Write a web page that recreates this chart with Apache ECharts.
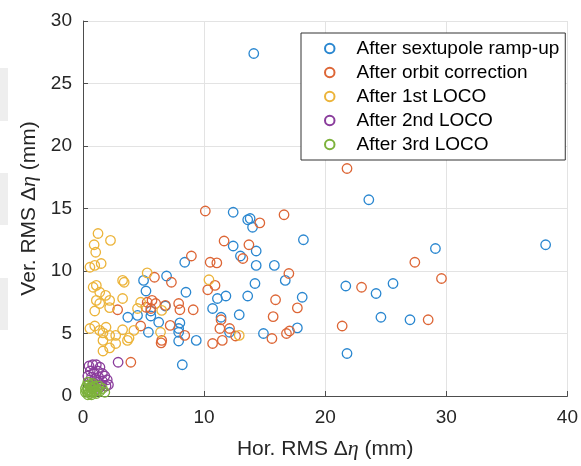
<!DOCTYPE html>
<html>
<head>
<meta charset="utf-8">
<script src="https://cdn.jsdelivr.net/npm/echarts@6/dist/echarts.min.js"></script>
<style>
  html, body { margin: 0; padding: 0; background: #fff; }
  #chart { width: 581px; height: 466px; }
</style>
</head>
<body>
<div id="chart"></div>
<script>
// legend names
var seriesNames = ['After sextupole ramp-up', 'After orbit correction', 'After 1st LOCO', 'After 2nd LOCO', 'After 3rd LOCO'];
var seriesColors = ['#2a87d0', '#dd6636', '#ecb43a', '#8a3d9c', '#7db23c'];

// [hor, ver] RMS dispersion error in mm
var rampUp = [
    [14.1, 27.4], [23.6, 15.7], [29.1, 11.8], [38.2, 12.1], [18.2, 12.5], [15.8, 10.45], [16.7, 9.25],
    [18.1, 7.9], [17.7, 5.45], [21.7, 8.8], [24.2, 8.2], [25.6, 9.0], [24.6, 6.3], [27.0, 6.1], [21.8, 3.4],
    [12.4, 14.7], [13.6, 14.1], [13.8, 14.2], [14.0, 13.5], [12.4, 12.0], [14.3, 11.6], [13.0, 11.2],
    [14.3, 10.45], [14.2, 9.0], [11.8, 8.0], [11.1, 7.8], [13.6, 8.0], [8.5, 8.3], [10.7, 7.0], [11.4, 6.3],
    [12.9, 6.5], [12.1, 5.1], [14.9, 5.0], [9.35, 4.45], [8.2, 2.5], [3.7, 6.3], [4.5, 6.45], [5.4, 5.1],
    [5.2, 8.4], [5.0, 9.25], [5.6, 6.4], [6.25, 5.9], [6.9, 9.6], [6.8, 7.2], [7.9, 5.1], [8.0, 5.85],
    [7.9, 4.4], [8.4, 10.7], [5.6, 6.8], [7.9, 5.4]
];
var orbitCorr = [
    [21.8, 18.2], [16.6, 14.5], [10.1, 14.8], [14.6, 13.85], [11.65, 12.4], [13.7, 12.1], [13.2, 11.0],
    [8.95, 11.2], [10.5, 10.7], [11.05, 10.65], [17.0, 9.8], [10.3, 8.5], [10.9, 8.85], [15.9, 7.7],
    [17.7, 7.05], [27.4, 10.7], [29.6, 9.4], [23.0, 8.7], [28.5, 6.1], [21.4, 5.6], [15.7, 6.35],
    [16.8, 5.0], [17.05, 5.2], [15.6, 4.6], [9.1, 6.9], [11.4, 6.1], [11.3, 5.4], [12.1, 5.4], [12.6, 4.8],
    [10.7, 4.2], [11.5, 4.45], [2.86, 6.9], [4.76, 5.6], [3.95, 2.7], [5.3, 7.5], [5.7, 7.65], [5.9, 9.5],
    [7.3, 9.1], [6.5, 4.45], [6.45, 4.25], [7.2, 5.65], [8.0, 6.9], [8.4, 4.85], [7.9, 7.4], [6.8, 7.25],
    [6.0, 7.4], [5.6, 7.0], [5.2, 7.1]
];
var loco1 = [
    [1.24, 13.0], [0.92, 12.1], [1.05, 11.5], [2.27, 12.45], [0.57, 10.3], [0.97, 10.45], [1.5, 10.6],
    [0.84, 8.7], [1.1, 8.85], [1.38, 8.3], [1.87, 8.05], [1.1, 7.65], [1.38, 7.4], [0.97, 6.8], [2.2, 7.07],
    [2.2, 7.65], [3.27, 9.25], [3.4, 9.1], [3.27, 7.8], [5.3, 9.85], [4.76, 7.5], [4.5, 7.0], [0.57, 5.4],
    [0.97, 5.6], [1.38, 5.25], [1.9, 5.5], [1.65, 5.05], [2.2, 4.85], [2.7, 4.85], [3.27, 5.3], [3.8, 4.65],
    [4.2, 5.25], [1.65, 4.45], [2.2, 3.85], [1.65, 3.6], [2.7, 4.2], [3.67, 4.45], [6.4, 5.1], [6.5, 6.85],
    [10.4, 9.3], [12.9, 4.85]
];
var loco2 = [
    [0.5, 2.4], [0.8, 2.5], [1.1, 2.5], [1.4, 2.3], [0.6, 2.0], [0.9, 1.9], [1.2, 2.0], [1.6, 1.8],
    [0.4, 1.6], [0.7, 1.5], [1.0, 1.4], [1.3, 1.5], [1.8, 1.6], [2.0, 1.3], [0.5, 1.1], [0.9, 1.0],
    [1.2, 1.1], [1.5, 0.9], [1.9, 0.8], [0.7, 0.7], [1.1, 0.6], [1.6, 1.2], [2.1, 0.9], [1.4, 0.7],
    [2.9, 2.7]
];
var loco3 = [
    [0.2, 0.3], [0.4, 0.5], [0.6, 0.2], [0.3, 0.8], [0.5, 0.9], [0.8, 0.6], [0.9, 0.3], [0.7, 0.4],
    [1.0, 0.7], [1.2, 0.5], [0.4, 0.1], [0.2, 0.6], [0.6, 0.7], [1.1, 0.2], [1.4, 0.4], [0.8, 1.0],
    [0.3, 0.4], [0.5, 0.3], [0.9, 0.8], [1.3, 0.8], [1.6, 0.6], [0.7, 0.1], [1.0, 0.4], [0.4, 1.1],
    [1.8, 0.3]
];
var allData = [rampUp, orbitCorr, loco1, loco2, loco3];

var font = 'Liberation Sans, Arial, Helvetica, sans-serif';
var chart = echarts.init(document.getElementById('chart'));

var series = [];
for (var i = 0; i < allData.length; i++) {
    series.push({
        name: seriesNames[i],
        type: 'scatter',
        symbol: 'circle',
        symbolSize: 9.5,
        itemStyle: { color: 'rgba(0,0,0,0)', borderColor: seriesColors[i], borderWidth: 1.3, opacity: 1 },
        data: allData[i]
    });
}

var axisName = function (label) {
    return {
        name: label + ' RMS Δ{i|η} (mm)',
        nameLocation: 'middle',
        nameTextStyle: {
            fontFamily: font, fontSize: 21, color: '#262626',
            rich: { i: { fontFamily: 'Liberation Serif, serif', fontStyle: 'italic', fontSize: 22, color: '#262626' } }
        }
    };
};

var xName = axisName('Hor.');
var yName = axisName('Ver.');

var option = {
    animation: false,
    backgroundColor: '#fff',
    grid: { left: 83, right: 5, top: 21, bottom: 70 },
    // grey page bits at the left edge of the picture
    graphic: [
        { type: 'rect', shape: { x: 0, y: 68, width: 8, height: 53 }, style: { fill: '#eeeeee' } },
        { type: 'rect', shape: { x: 0, y: 173, width: 8, height: 52 }, style: { fill: '#eeeeee' } },
        { type: 'rect', shape: { x: 0, y: 278, width: 8, height: 52 }, style: { fill: '#eeeeee' } }
    ],
    legend: {
        orient: 'vertical',
        left: 301,
        top: 33,
        padding: [6, 6, 6, 23],
        itemWidth: 9.5,
        itemHeight: 9.5,
        itemGap: 5,
        backgroundColor: '#fff',
        borderColor: '#333',
        borderWidth: 1,
        textStyle: { fontFamily: font, fontSize: 19, lineHeight: 19, color: '#000', padding: [0, 0, 0, 17] },
        data: seriesNames
    },
    xAxis: {
        type: 'value',
        min: 0, max: 40, interval: 10,
        name: xName.name, nameLocation: 'middle', nameGap: 42, nameTextStyle: xName.nameTextStyle,
        axisLine: { show: true, lineStyle: { color: '#4d4d4d', width: 1 } },
        axisTick: { show: true, inside: true, length: 5, lineStyle: { color: '#4d4d4d' } },
        axisLabel: { fontFamily: font, fontSize: 19, color: '#262626', margin: 12 },
        splitLine: { show: true, lineStyle: { color: '#e3e3e3', width: 1 } }
    },
    yAxis: {
        type: 'value',
        min: 0, max: 30, interval: 5,
        name: yName.name, nameLocation: 'middle', nameGap: 29, nameTextStyle: yName.nameTextStyle,
        axisLine: { show: true, lineStyle: { color: '#4d4d4d', width: 1 } },
        axisTick: { show: true, inside: true, length: 5, lineStyle: { color: '#4d4d4d' } },
        axisLabel: { fontFamily: font, fontSize: 19, color: '#262626', margin: 11 },
        splitLine: { show: true, lineStyle: { color: '#e3e3e3', width: 1 } }
    },
    series: series
};
chart.setOption(option);
</script>
</body>
</html>
